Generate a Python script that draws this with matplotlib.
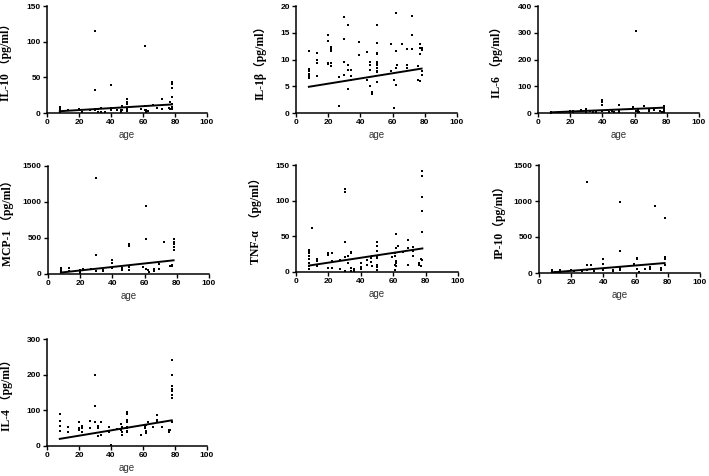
import matplotlib
matplotlib.use("Agg")
import matplotlib.pyplot as plt
import numpy as np

# ---------------- data ----------------
il10_age = [8, 8, 8, 8, 13, 20, 20, 22, 27, 30, 30, 30, 30, 32, 32, 34, 34, 36, 40, 40, 40, 44, 46, 46, 47, 47,
            50, 50, 50, 50, 50, 59, 61, 61, 61, 62, 62, 63, 66, 69, 72, 72, 76, 77, 77, 78, 78, 78, 78, 78, 78, 78]
il10_val = [8.4, 6, 3.7, 1.4, 4.7, 6, 3.7, 1.4, 3.7, 115, 32, 3.7, 6, 6, 1.4, 7.5, 1.4, 1.4, 39, 7.5, 4.7, 3.7, 3.7, 1.4, 9.4, 4.7,
            19, 16, 13, 6, 2.3, 6, 94, 9.4, 4.7, 3.7, 1.4, 2.3, 11, 7.5, 19, 6, 7, 16, 6, 44, 41, 35, 22.5, 13, 8.4, 6]

il1b_age = [8, 8, 8, 8, 8, 8, 13, 13, 13, 13, 20, 20, 20, 20, 22, 22, 22, 22, 22, 27, 27, 30, 30, 30, 30,
            32, 32, 32, 32, 34, 34, 34, 39, 39, 44, 44, 46, 46, 46, 46, 47, 47,
            50, 50, 50, 50, 50, 50, 50, 50, 50, 50, 50, 59, 59, 61, 61, 62, 62, 62, 62, 63, 66, 69, 69, 69,
            72, 72, 72, 76, 76, 77, 77, 77, 77, 78, 78, 78, 78]
il1b_val = [11.6, 8.2, 7.8, 7.3, 6.9, 6.5, 11.2, 9.9, 9.4, 7.0, 14.5, 13.5, 9.3, 9.1, 12.3, 11.9, 11.5, 9.3, 8.7, 6.8, 1.4,
            17.9, 13.9, 9.6, 7.1, 16.5, 9.0, 8.0, 4.5, 8.0, 7.0, 6.1, 13.2, 10.9, 11.4, 6.1, 9.6, 8.9, 8.0, 5.0, 3.9, 3.6,
            16.5, 13.0, 11.3, 11.0, 9.6, 9.3, 8.9, 8.4, 7.9, 7.6, 5.8, 12.9, 7.9, 6.2, 1.0, 18.6, 11.5, 8.4, 5.3, 9.0,
            12.9, 12.0, 8.9, 8.5, 18.2, 14.5, 12.0, 8.7, 6.2, 12.9, 12.1, 11.0, 6.0, 12.2, 11.8, 7.9, 7.1]

il6_age = [8, 8, 13, 13, 20, 20, 22, 22, 27, 30, 30, 32, 34, 36, 40, 40, 40, 40, 44, 46, 47, 50, 50, 50, 59,
           61, 61, 62, 62, 63, 66, 69, 69, 72, 76, 77, 78, 78, 78, 78]
il6_val = [4, 1, 5, 2, 8, 3, 6, 2, 12, 16, 5, 8, 4, 2, 50, 41, 31, 6, 5, 8, 3, 29, 10, 4, 22,
           306, 8, 12, 3, 5, 25, 16, 6, 12, 8, 5, 25, 20, 10, 4]

mcp1_age = [8, 8, 8, 13, 13, 20, 20, 20, 22, 27, 30, 30, 30, 34, 34, 40, 40, 40, 46, 46, 50, 50, 50, 50, 59,
            61, 61, 61, 62, 63, 66, 66, 69, 69, 72, 76, 77, 77, 78, 78, 78, 78, 78]
mcp1_val = [88, 51, 28, 88, 42, 51, 28, 14, 74, 74, 1328, 269, 42, 60, 42, 200, 158, 84, 84, 51, 423, 390, 98, 60, 98,
            948, 492, 74, 51, 28, 74, 42, 144, 74, 446, 107, 130, 107, 492, 446, 413, 376, 339]

tnf_age = [8, 8, 8, 8, 8, 8, 8, 8, 10, 13, 13, 13, 20, 20, 20, 22, 22, 22, 27, 27, 30, 30, 30, 30, 30,
           32, 32, 34, 34, 34, 34, 36, 36, 40, 40, 40, 44, 44, 46, 46, 47, 47,
           50, 50, 50, 50, 50, 50, 50, 50, 59, 61, 61, 61, 61, 62, 62, 62, 62, 62, 63, 66, 69, 69, 69,
           72, 72, 72, 76, 76, 77, 77, 78, 78, 78, 78, 78, 78]
tnf_val = [31, 29, 26, 22, 18, 13, 8, 4, 61, 18, 16, 8, 26, 24, 6, 27, 15, 6, 17, 4, 116, 112, 42, 21, 1,
           23, 13, 28, 26, 6, 2, 4, 2, 13, 7, 4, 17, 10, 20, 14, 22, 9,
           42, 36, 29, 23, 20, 10, 7, 3, 21, 27, 22, 10, 3, 53, 34, 15, 13, 8, 37, 28, 45, 34, 10,
           35, 29, 22, 13, 10, 18, 8, 142, 134, 105, 86, 56, 17]

ip10_age = [8, 8, 10, 13, 13, 20, 22, 27, 30, 30, 30, 32, 34, 40, 40, 40, 46, 46, 50, 50, 50, 50, 59,
            61, 61, 61, 62, 66, 69, 69, 72, 76, 76, 78, 78, 78, 78]
ip10_val = [37, 14, 10, 42, 20, 47, 28, 33, 1262, 107, 37, 116, 28, 200, 121, 47, 37, 23, 983, 307, 75, 37, 130,
            214, 200, 60, 20, 60, 84, 60, 936, 75, 47, 759, 224, 191, 107]

il4_age = [8, 8, 8, 8, 13, 13, 20, 20, 20, 22, 22, 22, 27, 27, 30, 30, 30, 32, 32, 32, 34, 34, 39, 39, 40,
           44, 46, 46, 47, 47, 47, 50, 50, 50, 50, 50, 50, 50, 50, 59, 61, 61, 62, 62, 62, 63, 66,
           69, 69, 69, 72, 72, 76, 76, 77, 78, 78, 78, 78, 78, 78, 78, 78]
il4_val = [89, 71, 56, 42, 52, 38, 67, 50, 45, 56, 50, 38, 70, 50, 200, 111, 66, 56, 50, 29, 66, 31, 52, 38, 3,
           48, 62, 45, 52, 40, 31, 95, 89, 73, 66, 54, 50, 43, 38, 31, 57, 50, 59, 42, 36, 66, 52,
           87, 73, 68, 68, 54, 38, 45, 45, 240, 198, 169, 160, 153, 143, 134, 68]

# regression lines: value at age 8 and at age 78
fit_age = [8, 78]
il10_fit = [2.5, 12]
il1b_fit = [4.9, 8.3]
il6_fit = [2.5, 20]
mcp1_fit = [20, 190]
tnf_fit = [9, 33]
ip10_fit = [8, 138]
il4_fit = [20, 72]

labels = ["IL-10 （pg/ml）", "IL-1β（pg/ml）", "IL-6 （pg/ml）", "MCP-1 （pg/ml）",
          "TNF-α  （pg/ml）", "IP-10（pg/ml）", "IL-4 （pg/ml）"]
yticks = [[0, 50, 100, 150], [0, 5, 10, 15, 20], [0, 100, 200, 300, 400], [0, 500, 1000, 1500],
          [0, 50, 100, 150], [0, 500, 1000, 1500], [0, 100, 200, 300]]
xticks = [0, 20, 40, 60, 80, 100]

series = [(il10_age, il10_val, il10_fit), (il1b_age, il1b_val, il1b_fit), (il6_age, il6_val, il6_fit),
          (mcp1_age, mcp1_val, mcp1_fit), (tnf_age, tnf_val, tnf_fit), (ip10_age, ip10_val, ip10_fit),
          (il4_age, il4_val, il4_fit)]

# ---------------- layout ----------------
W, H = 709, 476
boxes = [(47, 207, 6, 113), (296, 457, 6, 113), (538, 699, 6, 113),
         (48, 209, 166, 274), (296, 458, 165, 272), (539, 700, 165, 273),
         (47, 207, 339, 446)]
label_x = [-0.22, -0.18, -0.22, -0.21, -0.21, -0.21, -0.21]

fig = plt.figure(figsize=(W / 100, H / 100), dpi=100)
fig.patch.set_facecolor("white")

for i, ((ages, vals, fit), (l, r, t, b)) in enumerate(zip(series, boxes)):
    ax = fig.add_axes([l / W, 1 - b / H, (r - l) / W, (b - t) / H])
    ax.scatter(ages, vals, s=1.6, c="black", marker="s", linewidths=0, clip_on=False, zorder=3)
    ax.plot(fit_age, fit, color="black", lw=1.4, zorder=4)
    ax.set_xlim(0, 100)
    ax.set_ylim(yticks[i][0], yticks[i][-1])
    ax.set_xticks(xticks)
    ax.set_yticks(yticks[i])
    for s in ["top", "right"]:
        ax.spines[s].set_visible(False)
    for s in ["left", "bottom"]:
        ax.spines[s].set_linewidth(1.1)
    ax.tick_params(direction="out", length=3, width=1.0, pad=1.5, labelsize=6)
    for lab in ax.get_xticklabels() + ax.get_yticklabels():
        lab.set_fontweight("bold")
        lab.set_family("Liberation Sans")
    ax.set_xlabel("age", fontsize=7, color="#333333", family="Liberation Sans", labelpad=3)
    ax.set_ylabel(labels[i], fontsize=8.5, fontweight="bold",
                  family=["Liberation Serif", "Noto Sans CJK SC"])
    ax.yaxis.set_label_coords(label_x[i], 0.5)

fig.savefig("out.png", dpi=100, facecolor="white")
